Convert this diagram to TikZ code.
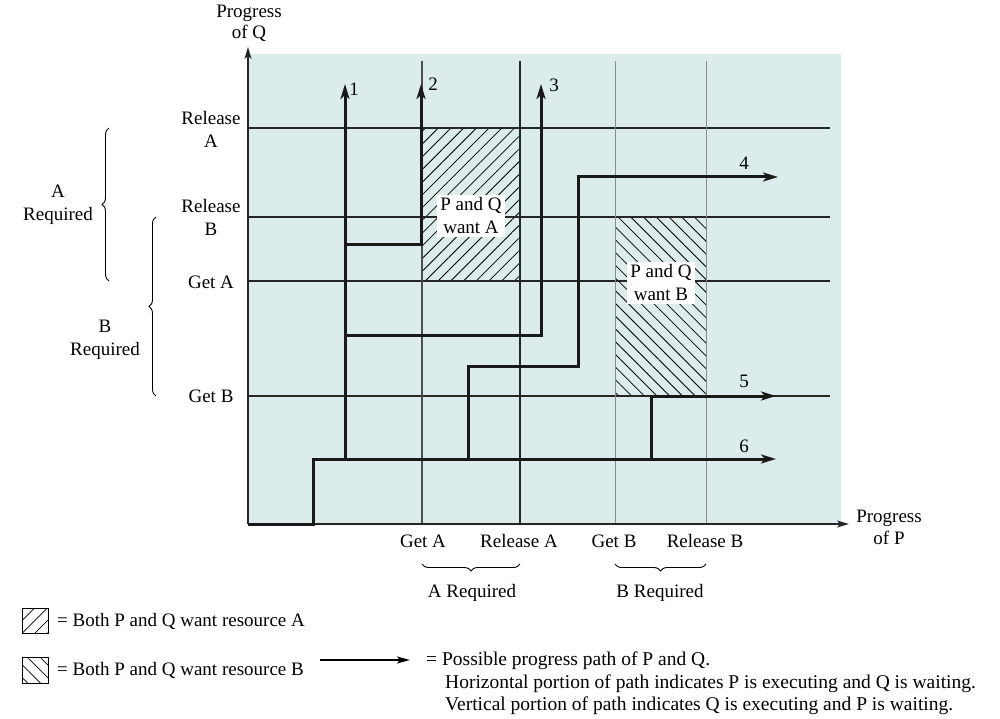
\documentclass[tikz,border=0pt]{standalone}
\usepackage{fontspec}
\setmainfont{Liberation Serif}
\usetikzlibrary{arrows.meta,patterns.meta,decorations.pathreplacing}
\definecolor{bg}{RGB}{220,235,235}
\tikzset{
  gridline/.style={line width=1.1pt, black!85},
  gridlight/.style={line width=1pt, black!45},
  axis/.style={line width=1.4pt, black!85, -{Stealth[length=12pt,width=7pt,inset=3pt]}},
  prog/.style={line width=3pt, black!90, line join=miter},
  progarrow/.style={prog, -{Stealth[length=15pt,width=9pt,inset=4pt]}},
  lbl/.style={font=\fontsize{19}{23}\selectfont, align=center, inner sep=0pt},
  leg/.style={font=\fontsize{19.5}{23}\selectfont, inner sep=0pt},
  hatchA/.style={pattern={Lines[angle=45,distance=9pt,line width=0.8pt]}},
  hatchB/.style={pattern={Lines[angle=-45,distance=9pt,line width=0.8pt]}},
  bracedeco/.style={decorate, decoration={brace,amplitude=7pt}, line width=0.9pt},
  whitebox/.style={lbl, fill=white, inner sep=3pt},
}
\begin{document}
\begin{tikzpicture}[x=1pt,y=-1pt]
\useasboundingbox (0,0) rectangle (1000,719);
% plot background
\fill[bg] (248,54) rectangle (841,524);
% hatched regions
\path[hatchA] (422,128) rectangle (520,281);
\path[hatchB] (615,217) rectangle (706,396);
% horizontal grid
\foreach \yy in {128,217,281,396} \draw[gridline] (248,\yy) -- (830,\yy);
% vertical grid
\draw[gridline, black!70] (422,61) -- (422,524);
\draw[gridline] (520,61) -- (520,524);
\draw[gridlight] (615,61) -- (615,524);
\draw[gridlight] (706,61) -- (706,524);
% axes
\coordinate (O) at (248,524);
\coordinate (Ytop) at (248,47);
\coordinate (Xend) at (849,524);
\draw[axis] (O) -- (Ytop);
\draw[axis] (O) -- (Xend);
% path coordinates
\coordinate (s6a) at (313,524);
\coordinate (s6b) at (313,459);
\coordinate (e6) at (776,459);
\coordinate (b1) at (345,459);
\coordinate (e1) at (345,84);
\coordinate (p2a) at (345,244);
\coordinate (p2b) at (421,244);
\coordinate (e2) at (421,84);
\coordinate (p3a) at (345,335);
\coordinate (p3b) at (541,335);
\coordinate (e3) at (541,84);
\coordinate (p4a) at (468,459);
\coordinate (p4b) at (468,366);
\coordinate (p4c) at (578,366);
\coordinate (p4d) at (578,177);
\coordinate (e4) at (778,177);
\coordinate (p5a) at (651,459);
\coordinate (p5b) at (651,396);
\coordinate (e5) at (776,396);
% paths
\draw[progarrow] (O) -- (s6a) -- (s6b) -- (e6);
\draw[progarrow] (b1) -- (e1);
\draw[progarrow] (p2a) -- (p2b) -- (e2);
\draw[progarrow] (p3a) -- (p3b) -- (e3);
\draw[progarrow] (p4a) -- (p4b) -- (p4c) -- (p4d) -- (e4);
\draw[progarrow] (p5a) -- (p5b) -- (e5);
% path numbers
\node[lbl] (n1) at (354,89) {1};
\node[lbl] (n2) at (433,84) {2};
\node[lbl] (n3) at (554,85) {3};
\node[lbl] (n4) at (744,163) {4};
\node[lbl] (n5) at (744,381) {5};
\node[lbl] (n6) at (744,446) {6};
% region labels
\node[whitebox] (wa) at (471,216) {P and Q\\want A};
\node[whitebox] (wb) at (661,283) {P and Q\\want B};
% axis titles
\node[lbl, font=\fontsize{19}{21}\selectfont] (pq) at (249,23) {Progress\\of Q};
\node[lbl, font=\fontsize{19}{22}\selectfont] (pp) at (889,527) {Progress\\of P};
% left labels
\node[lbl] (relA) at (211,129) {Release\\A};
\node[lbl] (relB) at (211,217) {Release\\B};
\node[lbl] (getA) at (211,282) {Get A};
\node[lbl] (getB) at (211,396) {Get B};
% bottom labels
\node[lbl] (bgetA) at (423,541) {Get A};
\node[lbl] (brelA) at (519,541) {Release A};
\node[lbl] (bgetB) at (614,541) {Get B};
\node[lbl] (brelB) at (705,541) {Release B};
% braces left
\coordinate (brA1) at (109,281);
\coordinate (brA2) at (109,128);
\coordinate (brB1) at (156,396);
\coordinate (brB2) at (156,217);
\draw[bracedeco] (brA1) -- (brA2);
\draw[bracedeco] (brB1) -- (brB2);
\node[lbl] (reqA) at (58,205) {A\\Required};
\node[lbl] (reqB) at (105,340) {B\\Required};
% braces bottom
\coordinate (bbA1) at (422,564);
\coordinate (bbA2) at (520,564);
\coordinate (bbB1) at (615,564);
\coordinate (bbB2) at (706,564);
\draw[bracedeco, decoration={mirror}] (bbA1) -- (bbA2);
\draw[bracedeco, decoration={mirror}] (bbB1) -- (bbB2);
\node[lbl] (breqA) at (472,593) {A Required};
\node[lbl] (breqB) at (660,593) {B Required};
% legend
\draw[line width=0.9pt, hatchA] (22,608) rectangle (48,633);
\draw[line width=0.9pt] (22,608) rectangle (48,633);
\draw[line width=0.9pt, hatchB] (22,657) rectangle (48,683);
\draw[line width=0.9pt] (22,657) rectangle (48,683);
\node[lbl, anchor=west] (legA) at (57,621) {= Both P and Q want resource A};
\node[lbl, anchor=west] (legB) at (57,670) {= Both P and Q want resource B};
\coordinate (la1) at (320,660);
\coordinate (la2) at (410,660);
\draw[line width=2pt, -{Stealth[length=13pt,width=7pt,inset=3pt]}] (la1) -- (la2);
\node[leg, anchor=west] (legP1) at (426,661) {= Possible progress path of P and Q.};
\node[leg, anchor=west] (legP2) at (445,684) {Horizontal portion of path indicates P is executing and Q is waiting.};
\node[leg, anchor=west] (legP3) at (445,706) {Vertical portion of path indicates Q is executing and P is waiting.};
\end{tikzpicture}
\end{document}
